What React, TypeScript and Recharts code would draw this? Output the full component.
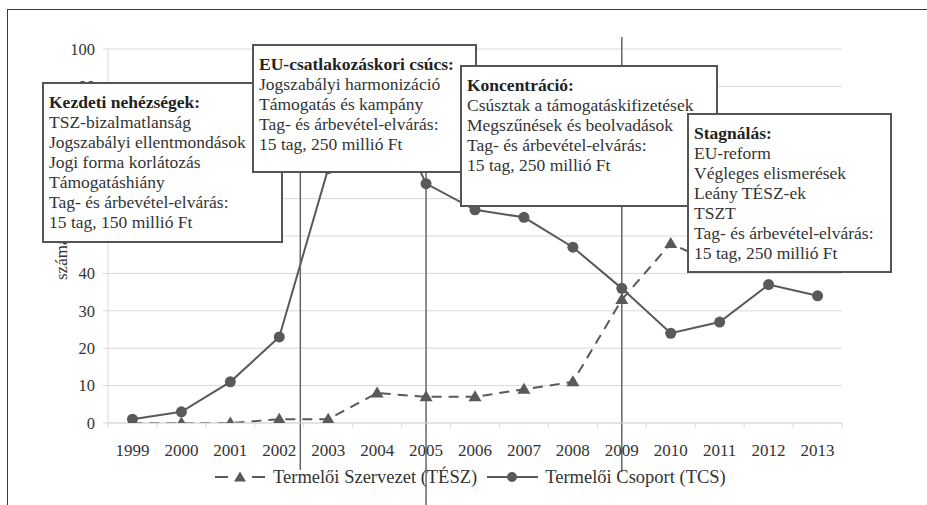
import React from 'react';
import { LineChart, Line, XAxis, YAxis, CartesianGrid, ReferenceLine } from 'recharts';

// ---- data ----
const YEARS = [1999, 2000, 2001, 2002, 2003, 2004, 2005, 2006, 2007, 2008, 2009, 2010, 2011, 2012, 2013];
const TESZ = [0, 0, 0, 1, 1, 8, 7, 7, 9, 11, 33, 48, 42, 46, 44];
const TCS = [1, 3, 11, 23, 68, 92, 64, 57, 55, 47, 36, 24, 27, 37, 34];
const Y_TICKS = [0, 10, 20, 30, 40, 50, 60, 70, 80, 90, 100];
const SERIES_NAMES = ['Termelői Szervezet (TÉSZ)', 'Termelői Csoport (TCS)'];
const Y_LABEL = 'száma (db)';
const PHASE_X = [2002.43, 2005, 2009];
const PHASE_TOP = [100, 100, 103.2];
const PHASE_BOTTOM = [-12.6, -22, -13.1];

const BOX_TITLES = ['Kezdeti nehézségek:', 'EU-csatlakozáskori csúcs:', 'Koncentráció:', 'Stagnálás:'];
const BOX_LINES = [
  ['TSZ-bizalmatlanság', 'Jogszabályi ellentmondások', 'Jogi forma korlátozás', 'Támogatáshiány', 'Tag- és árbevétel-elvárás:', '15 tag, 150 millió Ft'],
  ['Jogszabályi harmonizáció', 'Támogatás és kampány', 'Tag- és árbevétel-elvárás:', '15 tag, 250 millió Ft'],
  ['Csúsztak a támogatáskifizetések', 'Megszűnések és beolvadások', 'Tag- és árbevétel-elvárás:', '15 tag, 250 millió Ft'],
  ['EU-reform', 'Végleges elismerések', 'Leány TÉSZ-ek', 'TSZT', 'Tag- és árbevétel-elvárás:', '15 tag, 250 millió Ft'],
];

// ---- layout / style ----
const BOX_RECTS = [
  { left: 42, top: 82, width: 241, height: 161 },
  { left: 252, top: 44, width: 225, height: 129 },
  { left: 460, top: 65, width: 258, height: 142 },
  { left: 687, top: 113, width: 205, height: 160 },
];
const FONT = '"Liberation Serif", "Times New Roman", serif';
const SERIES_COLOR = '#595959';
const GRID = '#d9d9d9';
const TEXT = '#333';

const chartData = YEARS.map((year, i) => ({ year, tesz: TESZ[i], tcs: TCS[i] }));
const X_TICKS: number[] = [];
YEARS.forEach((y, i) => {
  if (i === 0) X_TICKS.push(y - 0.5);
  X_TICKS.push(y);
  X_TICKS.push(y + 0.5);
});

const XTick = (props: any) => {
  const { x, y, payload } = props;
  const v = payload.value;
  if (Number.isInteger(v)) {
    return (
      <text x={x} y={y + 25} textAnchor="middle" fontSize={17} style={{ fontFamily: FONT }} fill={TEXT}>
        {v}
      </text>
    );
  }
  return <line x1={x} x2={x} y1={y - 8} y2={y - 3} stroke={GRID} strokeWidth={1} />;
};

const Triangle = (props: any) => {
  const { cx, cy, key } = props;
  if (cx == null || cy == null) return null;
  return (
    <polygon
      key={key}
      points={`${cx},${cy - 6.5} ${cx + 6.5},${cy + 4.5} ${cx - 6.5},${cy + 4.5}`}
      fill={SERIES_COLOR}
    />
  );
};

const YLabel = (props: any) => {
  const vb = props.viewBox || { x: 0, y: 41, width: 100, height: 374 };
  const x = vb.x + 59;
  const y = vb.y + vb.height / 2 + 44;
  return (
    <text x={x} y={y} transform={`rotate(-90, ${x}, ${y})`} textAnchor="start" fontSize={17} style={{ fontFamily: FONT }} fill={TEXT}>
      {Y_LABEL}
    </text>
  );
};

export default function App() {
  return (
    <div style={{ position: 'absolute', left: 0, top: 0, width: 927, height: 505, overflow: 'hidden', background: '#fff', fontFamily: FONT }}>
      <div style={{ position: 'absolute', left: 7, top: 9, width: 960, height: 540, borderLeft: '1.5px solid #3a3a3a', borderTop: '1.5px solid #3a3a3a' }} />
      <div style={{ position: 'absolute', left: 8, top: 8, width: 919, height: 497 }}>
        <LineChart width={919} height={497} data={chartData} margin={{ top: 41, right: 85, bottom: 52, left: 0 }} style={{ fontFamily: FONT }}>
          <CartesianGrid vertical={false} stroke={GRID} strokeWidth={1} />
          <XAxis
            dataKey="year"
            type="number"
            domain={[1998.5, 2013.5]}
            ticks={X_TICKS}
            interval={0}
            allowDataOverflow
            tickLine={false}
            tickSize={6}
            tickMargin={2}
            axisLine={{ stroke: GRID }}
            tick={<XTick />}
            height={30}
          />
          <YAxis
            type="number"
            domain={[0, 100]}
            ticks={Y_TICKS}
            interval={0}
            allowDataOverflow
            width={100}
            tickSize={5}
            tickMargin={8}
            tickLine={{ stroke: GRID }}
            axisLine={{ stroke: GRID }}
            tick={{ fontSize: 16.5, fill: TEXT, style: { fontFamily: FONT } }}
            label={<YLabel />}
          />
          <Line
            type="linear"
            dataKey="tesz"
            name={SERIES_NAMES[0]}
            stroke={SERIES_COLOR}
            strokeWidth={2}
            strokeDasharray="10 7"
            dot={Triangle}
            activeDot={false}
            isAnimationActive={false}
          />
          <Line
            type="linear"
            dataKey="tcs"
            name={SERIES_NAMES[1]}
            stroke={SERIES_COLOR}
            strokeWidth={2}
            dot={{ r: 5.5, fill: SERIES_COLOR, stroke: 'none' }}
            activeDot={false}
            isAnimationActive={false}
          />
          {PHASE_X.map((x, i) => (
            <ReferenceLine
              key={i}
              segment={[{ x, y: PHASE_TOP[i] }, { x, y: PHASE_BOTTOM[i] }]}
              stroke="#666"
              strokeWidth={1.5}
              ifOverflow="visible"
            />
          ))}
        </LineChart>
      </div>

      {/* legend */}
      <div style={{ position: 'absolute', left: 215, top: 466, height: 22, display: 'flex', alignItems: 'center', fontSize: 18.5, color: TEXT, whiteSpace: 'nowrap', lineHeight: '22px' }}>
        <svg width={50} height={20} style={{ display: 'block' }}>
          <line x1={0} x2={13} y1={10} y2={10} stroke={SERIES_COLOR} strokeWidth={2} />
          <polygon points="25,4.5 31,14.5 19,14.5" fill={SERIES_COLOR} />
          <line x1={37} x2={50} y1={10} y2={10} stroke={SERIES_COLOR} strokeWidth={2} />
        </svg>
        <span style={{ marginLeft: 8 }}>{SERIES_NAMES[0]}</span>
        <svg width={51} height={20} style={{ display: 'block', marginLeft: 10 }}>
          <line x1={0} x2={51} y1={10} y2={10} stroke={SERIES_COLOR} strokeWidth={2} />
          <circle cx={25} cy={10} r={5} fill={SERIES_COLOR} />
        </svg>
        <span style={{ marginLeft: 7 }}>{SERIES_NAMES[1]}</span>
      </div>

      {/* annotation boxes */}
      {BOX_TITLES.map((title, i) => (
        <div
          key={i}
          style={{
            position: 'absolute',
            left: BOX_RECTS[i].left,
            top: BOX_RECTS[i].top,
            width: BOX_RECTS[i].width,
            height: BOX_RECTS[i].height,
            boxSizing: 'border-box',
            border: '2px solid #555',
            background: '#fff',
            padding: '8px 5px',
            fontSize: 17.5,
            lineHeight: '20px',
            color: TEXT,
            whiteSpace: 'nowrap',
            overflow: 'hidden',
          }}
        >
          <div style={{ fontWeight: 'bold', color: '#222' }}>{title}</div>
          {BOX_LINES[i].map((t, j) => (
            <div key={j}>{t}</div>
          ))}
        </div>
      ))}
    </div>
  );
}
